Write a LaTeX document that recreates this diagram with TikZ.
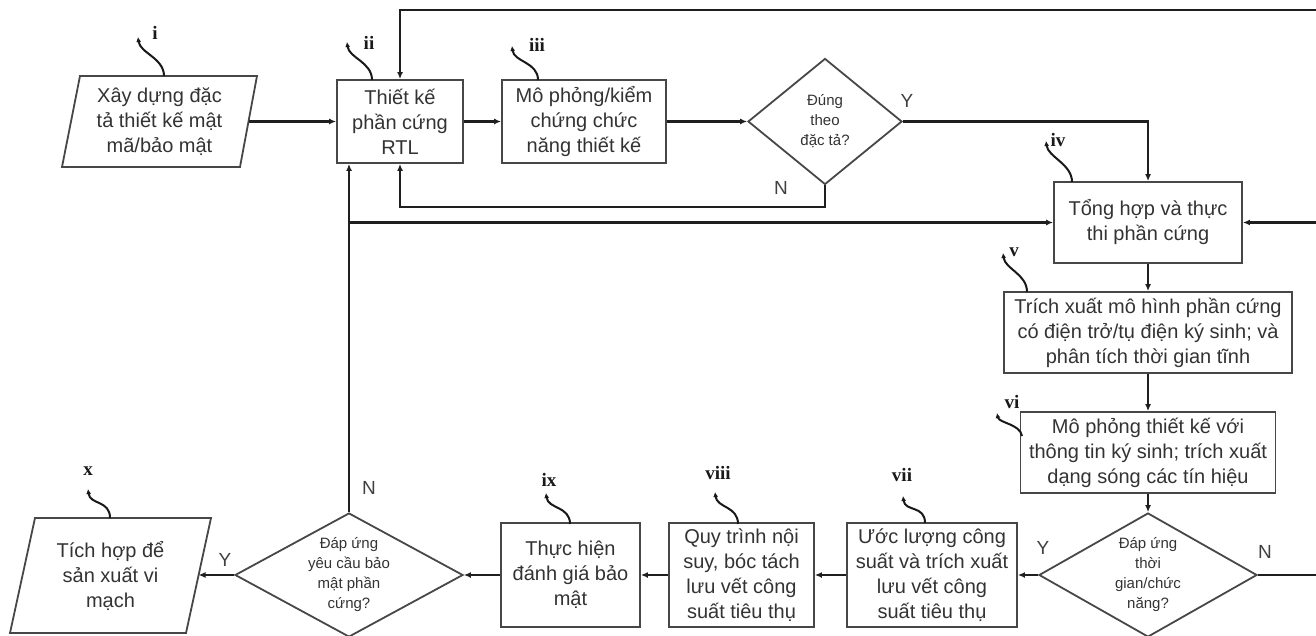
\documentclass[tikz,border=0pt]{standalone}
\usepackage{fontspec}
\setmainfont{Liberation Sans}
\newfontfamily\numfont{Liberation Serif}
\usetikzlibrary{shapes.geometric,arrows.meta,calc}
\begin{document}
\begin{tikzpicture}[x=1pt,y=-1pt,
  box/.style={draw=black!72, line width=1.8pt, fill=white, inner sep=0pt, align=center, text=black!80, font=\fontsize{20}{25}\selectfont},
  paraline/.style={draw=black!72, line width=1.8pt, fill=white, line join=miter},
  dia/.style={draw=black!72, line width=1.8pt, fill=white, inner sep=0pt, diamond},
  dtext/.style={inner sep=0pt, align=center, text=black!80, font=\fontsize{15}{20}\selectfont},
  ptext/.style={inner sep=0pt, align=center, text=black!80, font=\fontsize{20}{25}\selectfont},
  conn/.style={draw=black!88, line width=2.3pt},
  arr/.style={conn, -{Latex[length=7pt,width=6pt]}},
  squig/.style={draw=black!90, line width=2pt, {Latex[length=5pt,width=5pt]}-},
  num/.style={inner sep=0pt, text=black!90, font=\numfont\bfseries\fontsize{19}{19}\selectfont},
  yn/.style={inner sep=0pt, text=black!75, font=\fontsize{19}{19}\selectfont}]
\useasboundingbox (0,0) rectangle (1316,636);

% parallelogram i
\coordinate (i-tl) at (80,76); \coordinate (i-tr) at (257,76);
\coordinate (i-br) at (240,167); \coordinate (i-bl) at (62,167);
\draw[paraline] (i-tl) -- (i-tr) -- (i-br) -- (i-bl) -- cycle;
\coordinate (i-e) at (248.5,121.5);
\node[ptext] (i) at (159.5,121.5) {Xây dựng đặc\\tả thiết kế mật\\mã/bảo mật};

% nodes
\node[box, minimum width=126pt, minimum height=83pt] (ii) at (400,121.5) {Thiết kế\\phần cứng\\RTL};
\node[box, minimum width=164pt, minimum height=83pt] (iii) at (584,121.5) {Mô phỏng/kiểm\\chứng chức\\năng thiết kế};
\node[dia, minimum width=154pt, minimum height=126pt] (d1) at (825,121.5) {};
\node[dtext] (d1t) at (d1.center) {Đúng\\theo\\đặc tả?};
\node[box, minimum width=188pt, minimum height=81pt] (iv) at (1148,222.5) {Tổng hợp và thực\\thi phần cứng};
\node[box, minimum width=288pt, minimum height=81pt] (v) at (1148,332.5) {Trích xuất mô hình phần cứng\\có điện trở/tụ điện ký sinh; và\\phân tích thời gian tĩnh};
\node[box, minimum width=255pt, minimum height=81pt] (vi) at (1148,452.5) {Mô phỏng thiết kế với\\thông tin ký sinh; trích xuất\\dạng sóng các tín hiệu};
\node[dia, minimum width=218pt, minimum height=124pt] (d2) at (1148,575) {};
\node[dtext] (d2t) at (d2.center) {Đáp ứng\\thời\\gian/chức\\năng?};
\node[box, minimum width=170pt, minimum height=104pt] (vii) at (932,575) {Ước lượng công\\suất và trích xuất\\lưu vết công\\suất tiêu thụ};
\node[box, minimum width=145pt, minimum height=104pt] (viii) at (741.5,575) {Quy trình nội\\suy, bóc tách\\lưu vết công\\suất tiêu thụ};
\node[box, minimum width=139pt, minimum height=104pt] (ix) at (570.5,575) {Thực hiện\\đánh giá bảo\\mật};
\node[dia, minimum width=228pt, minimum height=124pt] (d3) at (349,575) {};
\node[dtext] (d3t) at (d3.center) {Đáp ứng\\yêu cầu bảo\\mật phần\\cứng?};

% parallelogram x
\coordinate (x-tl) at (35,518); \coordinate (x-tr) at (211,518);
\coordinate (x-br) at (186,633); \coordinate (x-bl) at (10,633);
\draw[paraline] (x-tl) -- (x-tr) -- (x-br) -- (x-bl) -- cycle;
\coordinate (x-e) at (198.5,575);
\node[ptext] (x) at (110.5,575.5) {Tích hợp để\\sản xuất vi\\mạch};

% helper coordinates
\coordinate (b1) at (400,207);
\coordinate (topR) at (1316,10);
\coordinate (midR) at (1316,222.5);
\coordinate (botR) at (1316,575);
\coordinate (j) at (349,222.5);

% connectors
\draw[arr] (i-e) -- (ii.west);
\draw[arr] (ii.east) -- (iii.west);
\draw[arr] (iii.east) -- (d1.west);
\draw[arr] (d1.east) -| (iv.north);
\draw[arr] (d1.south) |- (b1) -- (ii.south);
\draw[arr] (topR) -| (ii.north);
\draw[arr] (midR) -- (iv.east);
\draw[arr] (iv.south) -- (v.north);
\draw[arr] (v.south) -- (vi.north);
\draw[arr] (vi.south) -- (d2.north);
\draw[conn] (d2.east) -- (botR);
\draw[arr] (d2.west) -- (vii.east);
\draw[arr] (vii.west) -- (viii.east);
\draw[arr] (viii.west) -- (ix.east);
\draw[arr] (ix.west) -- (d3.east);
\draw[arr] (d3.west) -- (x-e);
\draw[arr] (d3.north) -- (d3.north |- ii.south);
\draw[arr] (j) -- (iv.west);

% Y/N labels
\node[yn] (y1) at (907,101) {Y};
\node[yn] (n1) at (781,188) {N};
\node[yn] (y2) at (1043,548) {Y};
\node[yn] (n2) at (1265,552) {N};
\node[yn] (y3) at (225,560) {Y};
\node[yn] (n3) at (369,488) {N};

% roman numeral labels with squiggles
\node[num] (li) at (155,33) {i};
\node[num] (lii) at (369,43) {ii};
\node[num] (liii) at (537,45) {iii};
\node[num] (liv) at (1058,140) {iv};
\node[num] (lv) at (1014,252) {v};
\node[num] (lvi) at (1012,402) {vi};
\node[num] (lvii) at (902,475) {vii};
\node[num] (lviii) at (718,473) {viii};
\node[num] (lix) at (549,480) {ix};
\node[num] (lx) at (88,471) {x};

\coordinate (ti) at (138,37);   \coordinate (ei) at (164,76);
\coordinate (tii) at (347,42);  \coordinate (eii) at (372,80);
\coordinate (tiii) at (512,46); \coordinate (eiii) at (538,80);
\coordinate (tiv) at (1046,141);\coordinate (eiv) at (1072,182);
\coordinate (tv) at (1003,253); \coordinate (ev) at (1027,292);
\coordinate (tvi) at (997,413); \coordinate (evi) at (1022,436);
\coordinate (tvii) at (903,496);\coordinate (evii) at (925,523);
\coordinate (tviii) at (715,492);\coordinate (eviii) at (738,524);
\coordinate (tix) at (546,493); \coordinate (eix) at (570,524);
\coordinate (tx) at (88,489);   \coordinate (ex) at (110,518);
\foreach \t/\e in {ti/ei,tii/eii,tiii/eiii,tiv/eiv,tv/ev,tvii/evii,tviii/eviii,tix/eix,tx/ex}
  \draw[squig] (\t) .. controls +(2,16) and +(0,-18) .. (\e);
\draw[squig] (tvi) .. controls +(2,10) and +(-2,-12) .. (evi);
\end{tikzpicture}
\end{document}
